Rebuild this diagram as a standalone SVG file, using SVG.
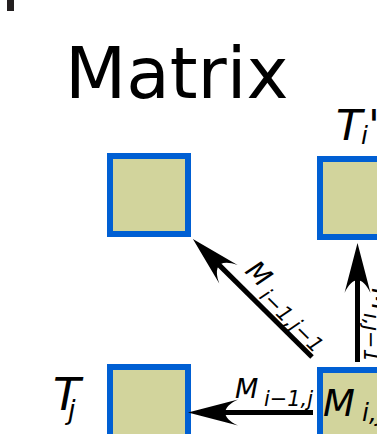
<svg xmlns="http://www.w3.org/2000/svg" width="377" height="434" viewBox="0 0 377 434">
<style>
.box{fill:#d2d49c;stroke:#005fd3;stroke-width:6}
.edge{stroke:#000;stroke-width:5;fill:none;marker-end:url(#ah)}
text{font-family:"DejaVu Sans","Liberation Sans",sans-serif;fill:#000}
.it{font-style:italic}
.lm{font-size:27px}
.ls{font-size:21px}
</style>
<defs>
<marker id="ah" markerUnits="userSpaceOnUse" orient="auto" refX="0" refY="0" markerWidth="60" markerHeight="30" overflow="visible">
<path d="M20,0 L-30,-13 C-13,-5 -13,5 -30,13 Z" fill="#000"/>
</marker>
</defs>
<rect x="7" y="0" width="7" height="11" fill="#231f20"/>
<text x="65" y="98" font-size="71">Matrix</text>
<g id="n-topleft"><rect class="box" x="110" y="156" width="78" height="78"/></g>
<g id="n-topright"><rect class="box" x="320" y="159" width="78" height="78"/>
<text class="it" x="336" y="140" font-size="43">T</text><text class="it" x="361" y="144" font-size="25">i</text><text x="368" y="140" font-size="43">'</text></g>
<g id="n-bottomleft"><rect class="box" x="110" y="367" width="78" height="78"/>
<text class="it" x="53" y="410" font-size="45">T</text><text class="it" x="68" y="419" font-size="27">j</text></g>
<g id="n-bottomright"><rect class="box" x="320" y="370" width="78" height="78"/>
<text class="it" x="323" y="416" font-size="37">M</text><text class="it" x="362" y="421" font-size="25">i,j</text></g>
<g id="connectors">
<line class="edge" x1="313" y1="412.5" x2="208" y2="412.5"/>
<line class="edge" x1="312" y1="357" x2="207.1" y2="253.1"/>
<line class="edge" x1="357.5" y1="362" x2="357.5" y2="263"/>
<text class="it lm" x="235" y="398">M</text>
<text class="it ls" x="264" y="406" textLength="49" lengthAdjust="spacing">i−1,j</text>
<g transform="translate(244,272) rotate(45)">
<text class="it lm" x="0" y="0">M</text>
<text class="it ls" x="28" y="8" textLength="80" lengthAdjust="spacing">i−1,j−1</text>
</g>
<g transform="translate(372,288) rotate(90)">
<text class="it lm" x="0" y="0">M</text>
<text class="it ls" x="25" y="8" textLength="49" lengthAdjust="spacing">i,j−1</text>
</g>
</g>
</svg>
